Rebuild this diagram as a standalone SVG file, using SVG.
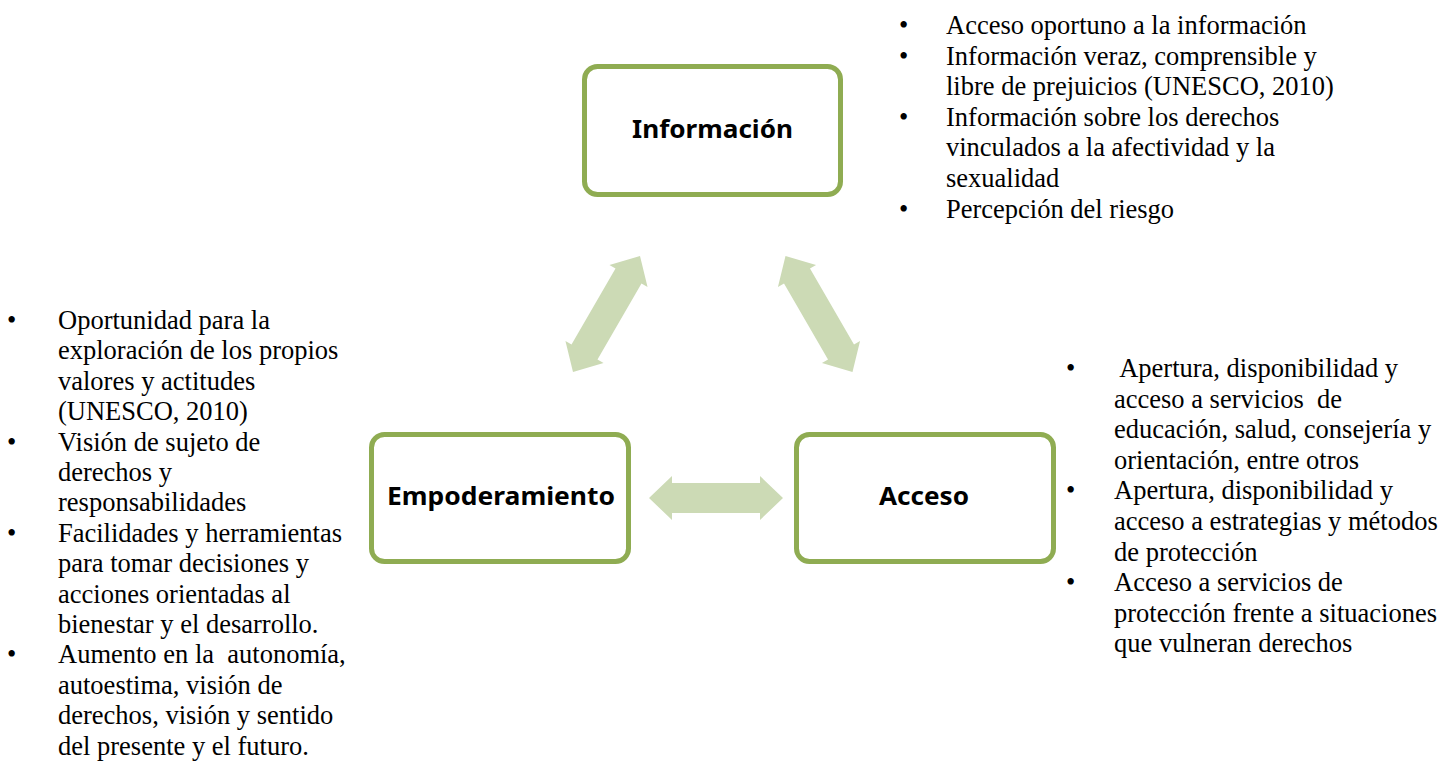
<svg xmlns="http://www.w3.org/2000/svg" width="1442" height="761" viewBox="0 0 1442 761">
<style>
.box{fill:#ffffff;stroke:#8FAC52;stroke-width:5}
.lbl{font-family:"Noto Sans","Open Sans",sans-serif;font-weight:bold;font-size:25.5px;fill:#000;text-anchor:middle}
.txt{font-family:"Liberation Serif","Times New Roman",serif;font-size:26.5px;fill:#000;white-space:pre}
.arr{fill:#CCDAB5}
</style>
<defs>
<path id="dbl" d="M -67 0 L -44 -22 L -44 -15 L 44 -15 L 44 -22 L 67 0 L 44 22 L 44 15 L -44 15 L -44 22 Z"/>
</defs>
<g id="connectors">
<use href="#dbl" class="arr" transform="translate(606.5,314) rotate(-60)"/>
<use href="#dbl" class="arr" transform="translate(819,314) rotate(60)"/>
<use href="#dbl" class="arr" transform="translate(716,498)"/>
</g>
<g id="informacion">
<rect class="box" x="584.5" y="66.5" width="256" height="128" rx="13"/>
<text class="lbl" x="712.5" y="138" textLength="161" lengthAdjust="spacingAndGlyphs">Información</text>
</g>
<g id="empoderamiento">
<rect class="box" x="371.5" y="434.5" width="257" height="127" rx="13"/>
<text class="lbl" x="501" y="505" textLength="228" lengthAdjust="spacingAndGlyphs">Empoderamiento</text>
</g>
<g id="acceso">
<rect class="box" x="796.5" y="434.5" width="257" height="127" rx="13"/>
<text class="lbl" x="924" y="505" textLength="90" lengthAdjust="spacingAndGlyphs">Acceso</text>
</g>
<g id="info-list" class="txt">
<text x="899" y="34">•</text>
<text x="946" y="34">Acceso oportuno a la información</text>
<text x="899" y="64.6">•</text>
<text x="946" y="64.6">Información veraz, comprensible y</text>
<text x="946" y="95.2">libre de prejuicios (UNESCO, 2010)</text>
<text x="899" y="125.8">•</text>
<text x="946" y="125.8">Información sobre los derechos</text>
<text x="946" y="156.4">vinculados a la afectividad y la</text>
<text x="946" y="187">sexualidad</text>
<text x="899" y="217.6">•</text>
<text x="946" y="217.6">Percepción del riesgo</text>
</g>
<g id="empoderamiento-list" class="txt">
<text x="7" y="329">•</text>
<text x="58" y="329">Oportunidad para la</text>
<text x="58" y="359.4">exploración de los propios</text>
<text x="58" y="389.8">valores y actitudes</text>
<text x="58" y="420.2">(UNESCO, 2010)</text>
<text x="7" y="450.6">•</text>
<text x="58" y="450.6">Visión de sujeto de</text>
<text x="58" y="481">derechos y</text>
<text x="58" y="511.4">responsabilidades</text>
<text x="7" y="541.8">•</text>
<text x="58" y="541.8">Facilidades y herramientas</text>
<text x="58" y="572.2">para tomar decisiones y</text>
<text x="58" y="602.6">acciones orientadas al</text>
<text x="58" y="633">bienestar y el desarrollo.</text>
<text x="7" y="663.4">•</text>
<text x="58" y="663.4" xml:space="preserve">Aumento en la  autonomía,</text>
<text x="58" y="693.8">autoestima, visión de</text>
<text x="58" y="724.2">derechos, visión y sentido</text>
<text x="58" y="754.6">del presente y el futuro.</text>
</g>
<g id="acceso-list" class="txt">
<text x="1066" y="377">•</text>
<text x="1114" y="377" xml:space="preserve"> Apertura, disponibilidad y</text>
<text x="1114" y="407.6" xml:space="preserve">acceso a servicios  de</text>
<text x="1114" y="438.2">educación, salud, consejería y</text>
<text x="1114" y="468.8">orientación, entre otros</text>
<text x="1066" y="499.4">•</text>
<text x="1114" y="499.4">Apertura, disponibilidad y</text>
<text x="1114" y="530">acceso a estrategias y métodos</text>
<text x="1114" y="560.6">de protección</text>
<text x="1066" y="591.2">•</text>
<text x="1114" y="591.2">Acceso a servicios de</text>
<text x="1114" y="621.8">protección frente a situaciones</text>
<text x="1114" y="652.4">que vulneran derechos</text>
</g>
</svg>
